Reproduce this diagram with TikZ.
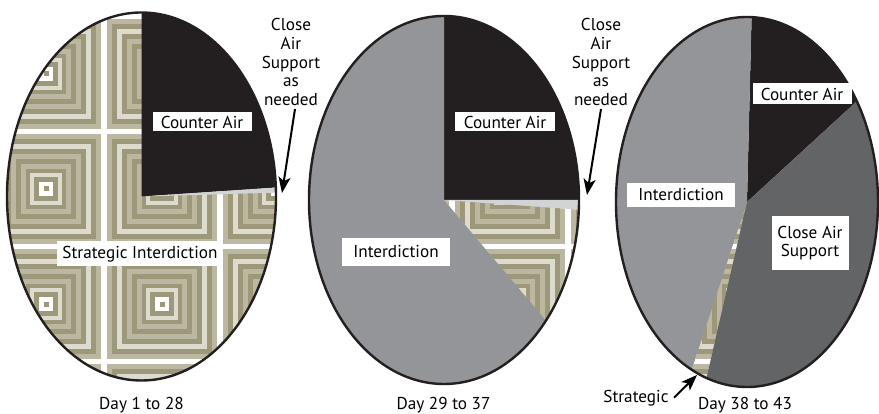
\documentclass[tikz,border=0pt]{standalone}
\usepackage{fontspec}
\setmainfont{PT Sans}
\usetikzlibrary{arrows.meta}

\definecolor{caBlack}{HTML}{231F20}
\definecolor{intGray}{HTML}{939598}
\definecolor{casGray}{HTML}{636466}
\definecolor{sliverGray}{HTML}{D1D3D4}
\definecolor{tileOlive}{HTML}{9D987A}
\definecolor{tileTan}{HTML}{BBB7A0}
\definecolor{tileCream}{HTML}{DDDBCE}

% concentric square tiles used for the strategic slices
\newcommand{\drawtiles}{%
  \foreach \tx in {46,162,...,858}
    \foreach \ty in {-6,109,224,339}
      \foreach \h/\c in {58/white,55/tileTan,50/tileOlive,45/tileCream,40/tileOlive,35/tileTan,30/tileOlive,25/tileTan,20/tileOlive,16/tileCream,12/tileOlive,7/white,2.5/tileOlive}
        \fill[\c] ({\tx-\h},{\ty-\h}) rectangle ({\tx+\h},{\ty+\h});
}

\begin{document}
\begin{tikzpicture}[x=0.5pt,y=0.5pt,font=\fontsize{8.6}{9.35}\selectfont,
    lbl/.style={fill=white,inner sep=0pt,align=center},
    rim/.style={line width=1.2pt,draw=caBlack},
    arr/.style={line width=1pt,-{Stealth[length=8pt,width=6pt,inset=2pt]}},
    note/.style={align=center,inner sep=0pt}]
    \useasboundingbox (0,0) rectangle (879,413);

    % Day 1 to 28
    \coordinate (c1) at (141.5,216.5);
    \begin{scope}
        \clip (c1) ellipse [x radius=134.5, y radius=184];
        \drawtiles
    \end{scope}
    \fill[caBlack] (c1) -- +(2.8:134.5 and 184) arc[start angle=2.8, end angle=90, x radius=134.5, y radius=184] -- cycle;
    \fill[sliverGray] (c1) -- +(1.2:134.5 and 184) arc[start angle=1.2, end angle=2.8, x radius=134.5, y radius=184] -- cycle;
    \draw[rim] (c1) ellipse [x radius=134.5, y radius=184];

    % Day 29 to 37
    \coordinate (c2) at (444,213);
    \begin{scope}
        \clip (c2) -- +(-41:135 and 184) arc[start angle=-41, end angle=-3, x radius=135, y radius=184] -- cycle;
        \drawtiles
    \end{scope}
    \fill[caBlack] (c2) -- +(0:135 and 184) arc[start angle=0, end angle=90, x radius=135, y radius=184] -- cycle;
    \fill[sliverGray] (c2) -- +(-3:135 and 184) arc[start angle=-3, end angle=0, x radius=135, y radius=184] -- cycle;
    \fill[intGray] (c2) -- +(90:135 and 184) arc[start angle=90, end angle=319, x radius=135, y radius=184] -- cycle;
    \draw[rim] (c2) ellipse [x radius=135, y radius=184];

    % Day 38 to 43
    \coordinate (c3) at (747,211);
    \begin{scope}
        \clip (c3) -- +(-115:131 and 185) arc[start angle=-115, end angle=-108, x radius=131, y radius=185] -- cycle;
        \drawtiles
    \end{scope}
    \fill[caBlack] (c3) -- +(33:131 and 185) arc[start angle=33, end angle=88, x radius=131, y radius=185] -- cycle;
    \fill[casGray] (c3) -- +(-108:131 and 185) arc[start angle=-108, end angle=33, x radius=131, y radius=185] -- cycle;
    \fill[intGray] (c3) -- +(88:131 and 185) arc[start angle=88, end angle=245, x radius=131, y radius=185] -- cycle;
    \draw[rim] (c3) ellipse [x radius=131, y radius=185];

    % Slice labels
    \node[lbl,minimum width=49.5pt,minimum height=9.5pt] (ca1) at (202,291) {Counter Air};
    \node[lbl,minimum width=83pt,minimum height=12.5pt] (si1) at (140,159) {Strategic Interdiction};
    \node[lbl,minimum width=50pt,minimum height=9.5pt] (ca2) at (505,291) {Counter Air};
    \node[lbl,minimum width=54pt,minimum height=14pt] (in2) at (396,161) {Interdiction};
    \node[lbl,minimum width=49.5pt,minimum height=10.5pt] (ca3) at (802,319) {Counter Air};
    \node[lbl,minimum width=54pt,minimum height=12pt] (in3) at (681,218) {Interdiction};
    \node[lbl,minimum width=38.5pt,minimum height=27pt] (cas3) at (810,170) {Close Air\\Support};

    % Callouts
    \node[note,anchor=north] (casA) at (291,395) {Close\\Air\\Support\\as\\needed};
    \coordinate (casAtip) at (282,220);
    \draw[arr] ([xshift=2pt,yshift=-1.5pt]casA.south) -- (casAtip);

    \node[note,anchor=north] (casB) at (601,395) {Close\\Air\\Support\\as\\needed};
    \coordinate (casBtip) at (587,218);
    \draw[arr] ([xshift=0pt,yshift=-1.5pt]casB.south) -- (casBtip);

    \node[note,anchor=base] (strat) at (636,11) {Strategic};
    \coordinate (stratTip) at (697,38);
    \draw[arr] ([xshift=2.5pt]strat.east) -- (stratTip);

    % Captions
    \node[anchor=base] (day1) at (141.5,4) {Day 1 to 28};
    \node[anchor=base] (day2) at (443.5,4) {Day 29 to 37};
    \node[anchor=base] (day3) at (745,4) {Day 38 to 43};
\end{tikzpicture}
\end{document}
